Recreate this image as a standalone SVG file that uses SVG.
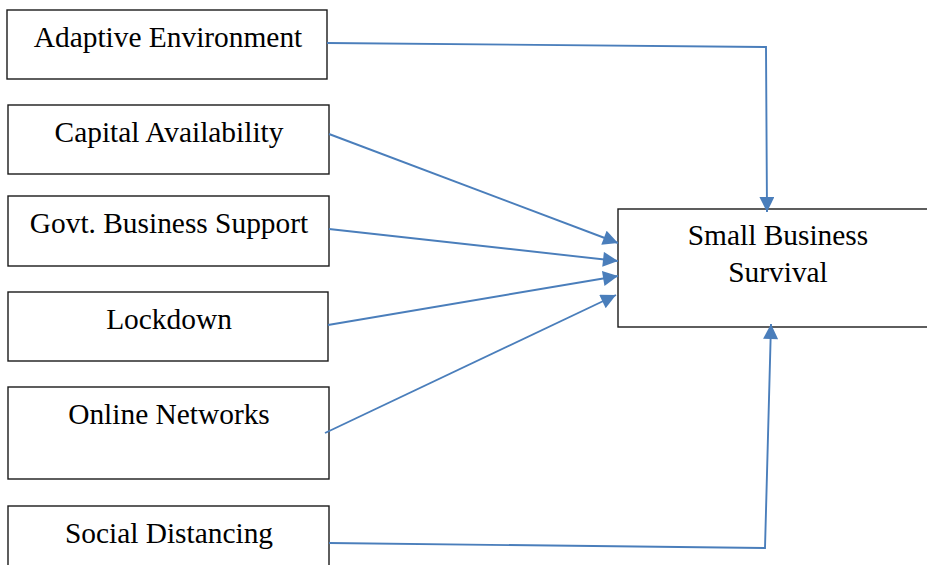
<svg xmlns="http://www.w3.org/2000/svg" width="927" height="565" viewBox="0 0 927 565">
  <style>
    .box { fill: #ffffff; stroke: #1a1a1a; stroke-width: 1.4; }
    .lbl { font-family: "Liberation Serif", "Times New Roman", serif; font-size: 29.4px; fill: #000000; text-anchor: middle; }
    .link { fill: none; stroke: #4a7ebb; stroke-width: 1.9; marker-end: url(#arrow); }
  </style>
  <defs>
    <marker id="arrow" viewBox="0 0 10 10" refX="10" refY="5" markerUnits="userSpaceOnUse" markerWidth="16" markerHeight="15" orient="auto">
      <path d="M0,0 L10,5 L0,10 Z" fill="#4a7ebb"/>
    </marker>
  </defs>
  <rect width="927" height="565" fill="#ffffff"/>

  <g id="adaptive-environment">
    <rect class="box" x="7" y="10" width="320" height="69"/>
    <text class="lbl" x="168" y="47">Adaptive Environment</text>
  </g>
  <g id="capital-availability">
    <rect class="box" x="8" y="105" width="321" height="69"/>
    <text class="lbl" x="169" y="142">Capital Availability</text>
  </g>
  <g id="govt-business-support">
    <rect class="box" x="8" y="196" width="321" height="70"/>
    <text class="lbl" x="169" y="233">Govt. Business Support</text>
  </g>
  <g id="lockdown">
    <rect class="box" x="8" y="292" width="320" height="69"/>
    <text class="lbl" x="169" y="329">Lockdown</text>
  </g>
  <g id="online-networks">
    <rect class="box" x="8" y="387" width="321" height="92"/>
    <text class="lbl" x="169" y="424">Online Networks</text>
  </g>
  <g id="social-distancing">
    <rect class="box" x="8" y="506" width="321" height="70"/>
    <text class="lbl" x="169" y="543">Social Distancing</text>
  </g>
  <g id="small-business-survival">
    <rect class="box" x="618" y="209" width="320" height="118"/>
    <text class="lbl" x="778" y="245">Small Business</text>
    <text class="lbl" x="778" y="282">Survival</text>
  </g>

  <g id="connectors">
    <polyline class="link" points="327,43 766,47 767,212"/>
    <line class="link" x1="329" y1="134" x2="618" y2="243"/>
    <line class="link" x1="329" y1="229" x2="618" y2="261"/>
    <line class="link" x1="328" y1="325" x2="618" y2="276"/>
    <line class="link" x1="325" y1="433" x2="616" y2="295"/>
    <polyline class="link" points="329,543 765,548 771,324"/>
  </g>
</svg>
